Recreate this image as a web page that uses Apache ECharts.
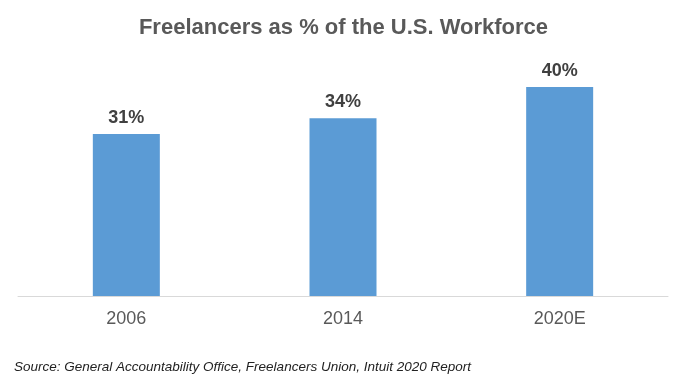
<!DOCTYPE html>
<html>
<head>
<meta charset="utf-8">
<script src="https://cdn.jsdelivr.net/npm/echarts@6/dist/echarts.min.js"></script>
<style>
html,body{margin:0;padding:0;background:#fff;}
#chart{width:687px;height:385px;}
</style>
</head>
<body>
<div id="chart"></div>
<script>
var categories = ['2006', '2014', '2020E'];
var values = [31, 34, 40];
var titleText = 'Freelancers as % of the U.S. Workforce';
var sourceText = 'Source: General Accountability Office, Freelancers Union, Intuit 2020 Report';

var chart = echarts.init(document.getElementById('chart'));
chart.setOption({
  animation: false,
  backgroundColor: '#ffffff',
  title: {
    text: titleText,
    left: 'center',
    top: 12,
    textStyle: {fontFamily: 'Liberation Sans, Arial, sans-serif', fontSize: 22, fontWeight: 'bold', color: '#595959'}
  },
  graphic: [{
    type: 'text',
    left: 14,
    top: 360,
    style: {text: sourceText, font: 'italic 13.5px "Liberation Sans", Arial, sans-serif', fill: '#222'}
  }],
  grid: {left: 18, right: 19, top: 87, bottom: 89, containLabel: false},
  xAxis: {
    type: 'category',
    data: categories,
    axisLine: {lineStyle: {color: '#d9d9d9', width: 1}},
    axisTick: {show: false},
    axisLabel: {fontFamily: 'Liberation Sans, Arial, sans-serif', fontSize: 18, color: '#595959', margin: 14}
  },
  yAxis: {
    type: 'value', min: 0, max: 40, show: false,
    splitLine: {show: false}
  },
  series: [{
    type: 'bar',
    data: values,
    barWidth: 67,
    itemStyle: {color: '#5B9BD5'},
    label: {
      show: true, position: 'top', distance: 7,
      formatter: '{c}%',
      fontFamily: 'Liberation Sans, Arial, sans-serif', fontSize: 18, fontWeight: 'bold', color: '#404040'
    }
  }]
});
</script>
</body>
</html>
